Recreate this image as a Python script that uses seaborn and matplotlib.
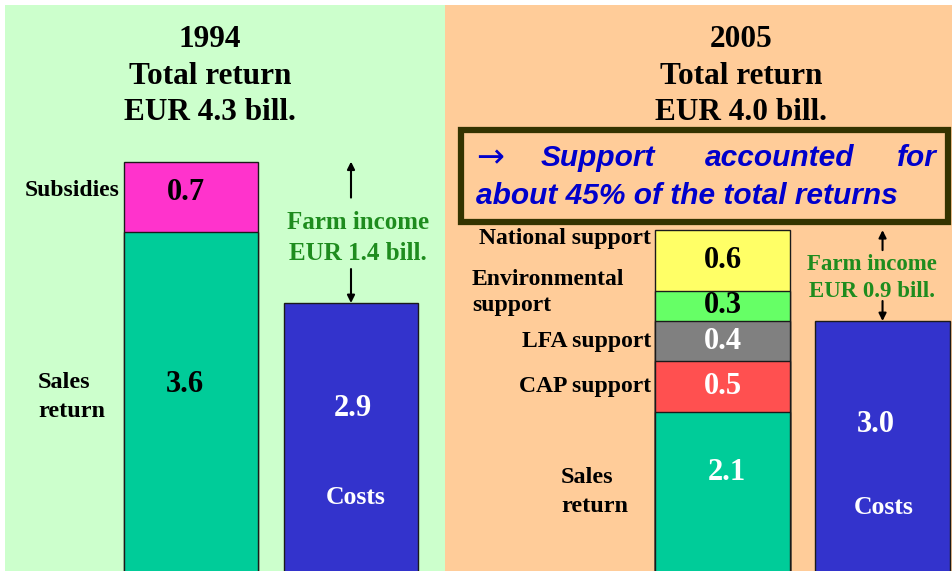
import numpy as np
import matplotlib
matplotlib.use("Agg")
import matplotlib.pyplot as plt
import matplotlib.patches as mpatches
import matplotlib.transforms as mtransforms
import seaborn as sns

sns.set_style("white")
plt.rcParams["font.family"] = ["Liberation Serif", "DejaVu Serif"]
plt.rcParams["text.color"] = "black"

W, H = 952, 571

# ---- data ----
bars = ["Returns", "Costs"]

segs_1994 = ["Sales return", "Subsidies"]
vals_1994 = [3.6, 0.7]
costs_1994 = 2.9
title_1994 = "1994\nTotal return\nEUR 4.3 bill."
income_1994 = "Farm income\nEUR 1.4 bill."

segs_2005 = ["Sales return", "CAP support", "LFA support", "Environmental\nsupport", "National support"]
vals_2005 = [2.1, 0.5, 0.4, 0.3, 0.6]
costs_2005 = 3.0
title_2005 = "2005\nTotal return\nEUR 4.0 bill."
income_2005 = "Farm income\nEUR 0.9 bill."

# ---- styles ----
cols_1994 = ["#00CC99", "#FF33CC"]
cols_2005 = ["#00CC99", "#FF5050", "#808080", "#66FF66", "#FFFF66"]
COST_COL = "#3333CC"
EDGE = "#1a1a1a"
BAR_W = 0.84


def px(x, y):
    return x / W, 1 - y / H


def draw_panel(ax, vals, colors, cost):
    cum = np.cumsum(vals)
    for top, c in reversed(list(zip(cum, colors))):
        sns.barplot(x=["Returns"], y=[top], order=bars, color=c, saturation=1,
                    width=BAR_W, edgecolor=EDGE, linewidth=1, errorbar=None, ax=ax)
    sns.barplot(x=["Costs"], y=[cost], order=bars, color=COST_COL, saturation=1,
                width=BAR_W, edgecolor=EDGE, linewidth=1, errorbar=None, ax=ax)
    ax.set_xticks([])
    ax.set_yticks([])
    ax.set_xlabel("")
    ax.set_ylabel("")
    for s in ax.spines.values():
        s.set_visible(False)
    return cum


def income_arrows(ax, total, cost, up_off, down_off):
    ap = dict(arrowstyle="-|>", color="black", lw=1.5, mutation_scale=11,
              shrinkA=0, shrinkB=0)
    ax.annotate("", xy=(1, total), xytext=(0, -up_off), textcoords="offset pixels",
                arrowprops=ap)
    ax.annotate("", xy=(1, cost), xytext=(0, down_off), textcoords="offset pixels",
                arrowprops=ap)


fig = plt.figure(figsize=(W / 100, H / 100), dpi=100)
fig.patch.set_facecolor("white")

axL = fig.add_axes([5 / W, 0, 440 / W, 566 / H])
axR = fig.add_axes([445 / W, 0, 507 / W, 566 / H])
axL.set_facecolor("#CCFFCC")
axR.set_facecolor("#FFCC99")

# ---- 1994 ----
cumL = draw_panel(axL, vals_1994, cols_1994, costs_1994)
axL.set_xlim(-1.1625, 1.5875)
axL.set_ylim(0.2475, 5.85)
income_arrows(axL, cumL[-1], costs_1994, 36, 34)

bold = dict(fontweight="bold")
fig.text(*px(210, 76), title_1994, ha="center", va="center", fontsize=22.5,
         linespacing=1.33, **bold)
axL.text(-0.03, cumL[-1] - vals_1994[-1] / 2 + 0.04, f"{vals_1994[1]:.1f}",
         ha="center", va="center", fontsize=22, **bold)
fig.text(*px(185, 385), f"{vals_1994[0]:.1f}", ha="center", va="center",
         fontsize=22, **bold)
fig.text(*px(353, 408), f"{costs_1994:.1f}", ha="center", va="center",
         fontsize=22, color="white", **bold)
fig.text(*px(356, 498), "Costs", ha="center", va="center", fontsize=18.5,
         color="white", **bold)
fig.text(*px(120, 190), segs_1994[1], ha="right", va="center", fontsize=17, **bold)
fig.text(*px(38, 397), "Sales\nreturn", ha="left", va="center", fontsize=17.5,
         linespacing=1.5, **bold)
fig.text(*px(358, 238), income_1994, ha="center", va="center", fontsize=18,
         color="#1E8C1E", linespacing=1.45, **bold)

# ---- 2005 ----
cumR = draw_panel(axR, vals_2005, cols_2005, costs_2005)
axR.set_xlim(-1.734, 1.434)
axR.set_ylim(0.525, 6.129)
income_arrows(axR, cumR[-1], costs_2005, 20, 20)

fig.text(*px(741, 76), title_2005, ha="center", va="center", fontsize=22.5,
         linespacing=1.33, **bold)

val_cols = ["white", "white", "white", "black", "black"]
mids = cumR - np.array(vals_2005) / 2
for i in range(1, len(vals_2005)):
    axR.text(0, mids[i], f"{vals_2005[i]:.1f}", ha="center", va="center",
             fontsize=22, color=val_cols[i], **bold)
fig.text(*px(727, 472), f"{vals_2005[0]:.1f}", ha="center", va="center",
         fontsize=22, color="white", **bold)
fig.text(*px(876, 425), f"{costs_2005:.1f}", ha="center", va="center",
         fontsize=22, color="white", **bold)
fig.text(*px(884, 507), "Costs", ha="center", va="center", fontsize=18.5,
         color="white", **bold)

blend = mtransforms.blended_transform_factory(fig.transFigure, axR.transData)
axR.text(651 / W, cumR[-1] - 0.08, segs_2005[4], transform=blend, ha="right",
         va="center", fontsize=17, **bold)
axR.text(472 / W, cumR[3] - 0.02, segs_2005[3], transform=blend, ha="left",
         va="center", fontsize=17, linespacing=1.3, **bold)
axR.text(651 / W, mids[2], segs_2005[2], transform=blend, ha="right",
         va="center", fontsize=17, **bold)
axR.text(651 / W, mids[1], segs_2005[1], transform=blend, ha="right",
         va="center", fontsize=17, **bold)
fig.text(*px(561, 492), "Sales\nreturn", ha="left", va="center", fontsize=17.5,
         linespacing=1.5, **bold)
fig.text(*px(872, 278), income_2005, ha="center", va="center", fontsize=16.5,
         color="#1E8C1E", linespacing=1.38, **bold)

# ---- callout box ----
box = mpatches.Rectangle(px(461, 222), 487 / W, 92 / H, transform=fig.transFigure,
                         fill=False, edgecolor="#333300", linewidth=4.5, zorder=5)
fig.add_artist(box)
sans = dict(family=["Liberation Sans", "DejaVu Sans"], fontweight="bold",
            fontstyle="italic", color="#0000CC", fontsize=21.5)
fig.text(*px(476, 158), "\u2192", ha="left", va="center", color="#0000CC",
         family="DejaVu Sans", fontsize=24)
fig.text(*px(541, 158), "Support", ha="left", va="center", **sans)
fig.text(*px(780, 158), "accounted", ha="center", va="center", **sans)
fig.text(*px(937, 158), "for", ha="right", va="center", **sans)
fig.text(*px(476, 196), "about 45% of the total returns", ha="left", va="center",
         **sans)

fig.savefig("out.png", dpi=100, facecolor=fig.get_facecolor())
